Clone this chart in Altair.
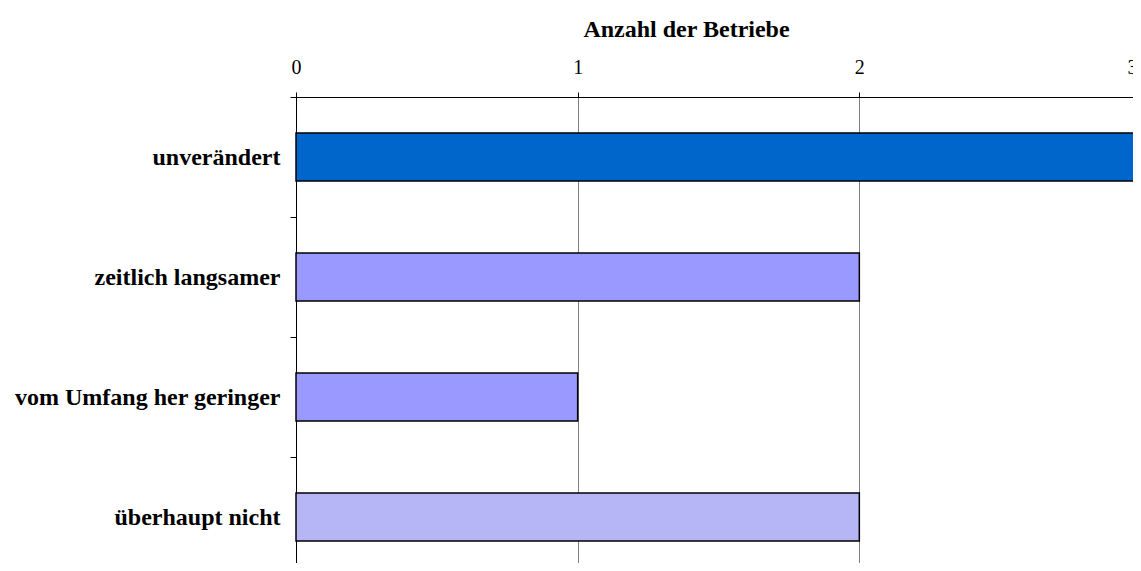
import altair as alt
import pandas as pd

categories = ["unverändert", "zeitlich langsamer", "vom Umfang her geringer", "überhaupt nicht"]
values = [3, 2, 1, 2]
colors = ["#0066CC", "#9999FF", "#9999FF", "#B6B6F6"]
x_ticks = [0, 1, 2, 3]

df = pd.DataFrame({"kategorie": categories, "anzahl": values, "farbe": colors})

FONT = "Liberation Serif"

chart = alt.Chart(df).mark_bar(stroke="black", strokeWidth=1.5).encode(
    y=alt.Y(
        "kategorie:N",
        sort=categories,
        scale=alt.Scale(range=[0, 480], paddingInner=0.6, paddingOuter=0.3),
        axis=alt.Axis(
            title=None,
            labelFont=FONT,
            labelFontSize=24,
            labelFontWeight="bold",
            labelColor="black",
            labelPadding=10,
            labelLimit=400,
            tickOffset=-60,
            labelOffset=60,
            tickSize=6,
            tickColor="black",
            domainColor="black",
            domainWidth=1,
            grid=False,
        ),
    ),
    x=alt.X(
        "anzahl:Q",
        scale=alt.Scale(domain=[0, 3], nice=False),
        axis=alt.Axis(
            orient="top",
            values=x_ticks,
            format="d",
            title="Anzahl der Betriebe",
            titleFont=FONT,
            titleFontSize=24,
            titleFontWeight="bold",
            titleColor="black",
            titleX=390,
            titleY=-61,
            titleAlign="center",
            titleBaseline="alphabetic",
            titleAnchor="start",
            labelFont=FONT,
            labelFontSize=20,
            labelColor="black",
            labelPadding=15,
            labelBaseline="bottom",
            labelFlush=False,
            labelOffset={"condition": {"test": "datum.value == 3", "value": -9}, "value": 0},
            tickSize=5,
            tickColor="black",
            domainColor="black",
            grid=True,
            gridColor="#808080",
            gridWidth=1,
        ),
    ),
    fill=alt.Color("farbe:N", scale=None, legend=None),
).properties(
    width=845,
    height=466,
    autosize=alt.AutoSizeParams(type="none"),
    padding={"left": 288, "top": 89, "right": -8, "bottom": 0},
).configure_view(stroke=None).configure(background="white")

chart.save("out.html", embed_options={"renderer": "svg", "actions": False})
